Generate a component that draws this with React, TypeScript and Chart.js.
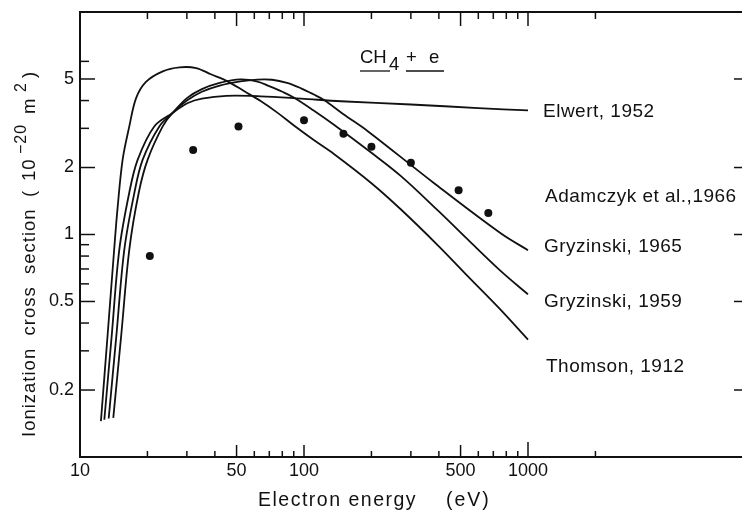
import React, { useEffect, useRef } from "react";
import { Chart, registerables } from "chart.js";

Chart.register(...registerables);

// ---- data (energy in eV, cross section in 1e-20 m^2) ----
const thomsonE = [12.4, 13.3, 14.2, 14.7, 15.5, 16.6, 17.8, 19.7, 23.4, 27.8, 33, 38.4, 45.6, 54.2, 64.3, 76.3, 90.5, 111, 136, 200, 271, 400, 538, 750, 1000];
const thomsonS = [0.145, 0.36, 0.85, 1.3, 2.17, 3.06, 4.1, 4.85, 5.41, 5.64, 5.6, 5.25, 4.88, 4.4, 3.97, 3.52, 3.08, 2.65, 2.3, 1.7, 1.295, 0.885, 0.65, 0.462, 0.337];

const elwertE = [12.84, 13.87, 14.98, 16.6, 18.1, 21.45, 25.9, 30.3, 35, 45, 64, 97, 146, 300, 600, 1000];
const elwertS = [0.147, 0.356, 0.856, 1.545, 2.17, 3.06, 3.52, 3.9, 4.08, 4.2, 4.18, 4.08, 3.97, 3.84, 3.7, 3.61];

const gryz59E = [13.43, 14.55, 15.77, 17.5, 19.05, 22.6, 25.9, 30, 35, 42, 52, 62, 70, 80, 90, 110, 137, 200, 271, 400, 538, 750, 1000];
const gryz59S = [0.149, 0.356, 0.856, 1.545, 2.17, 3.06, 3.52, 4.1, 4.5, 4.8, 4.98, 4.87, 4.64, 4.38, 4.13, 3.62, 3.1, 2.33, 1.83, 1.27, 0.95, 0.69, 0.538];

const gryz65E = [14.08, 15.29, 16.6, 18.3, 20.05, 23.4, 25.9, 30, 35, 42, 52, 62, 72, 84, 97, 110, 123, 150, 192, 381, 758, 1000];
const gryz65S = [0.15, 0.356, 0.856, 1.545, 2.17, 3.06, 3.52, 4.0, 4.38, 4.67, 4.88, 4.97, 4.96, 4.8, 4.54, 4.27, 4.02, 3.47, 2.92, 1.7, 1.01, 0.85];

const adamczykE = [20.5, 32, 51, 100, 150, 200, 300, 490, 665];
const adamczykS = [0.8, 2.4, 3.06, 3.26, 2.84, 2.48, 2.1, 1.58, 1.25];

const xLabelTicks = [10, 50, 100, 500, 1000];
const yLabelTicks = [0.2, 0.5, 1, 2, 5];
const xMajorTicks = [50, 100, 500, 1000];
const xMinorTicks = [20, 30, 40, 60, 70, 80, 90, 200, 300, 400, 600, 700, 800, 900, 2000];
const yMajorTicks = [0.2, 0.5, 1, 2, 5];
const yMinorTicks = [0.3, 0.4, 0.6, 0.7, 0.8, 0.9, 3, 4, 6];

const curveLabels = ["Elwert, 1952", "Adamczyk et al.,1966", "Gryzinski, 1965", "Gryzinski, 1959", "Thomson, 1912"];
const xTitle = ["Electron energy", "(eV)"];
const yTitle = ["Ionization  cross  section", "(", "10", "\u221220", "m", "2", ")"];

const FF = '"Liberation Sans", Arial, Helvetica, sans-serif';
const INK = "#111";

const pts = (E: number[], S: number[]) => E.map((e, i) => ({ x: e, y: S[i] }));

const decor = {
  id: "decor",
  afterDraw(chart: any) {
    const { ctx, chartArea: a, scales } = chart;
    const xs = scales.x;
    const ys = scales.y;
    ctx.save();
    ctx.strokeStyle = INK;
    ctx.fillStyle = INK;
    // frame
    ctx.lineWidth = 2;
    ctx.strokeRect(a.left, a.top, a.right - a.left, a.bottom - a.top);
    // ticks
    ctx.lineWidth = 1.5;
    const line = (x1: number, y1: number, x2: number, y2: number) => {
      ctx.beginPath();
      ctx.moveTo(x1, y1);
      ctx.lineTo(x2, y2);
      ctx.stroke();
    };
    xMinorTicks.forEach((v) => {
      const px = xs.getPixelForValue(v);
      line(px, a.bottom, px, a.bottom - 6);
      line(px, a.top, px, a.top + 7);
    });
    xMajorTicks.forEach((v) => {
      const px = xs.getPixelForValue(v);
      const len = v === 1000 ? 15 : 12;
      line(px, a.bottom, px, a.bottom - len);
      line(px, a.top, px, a.top + 14);
    });
    yMinorTicks.forEach((v) => {
      const py = ys.getPixelForValue(v);
      line(a.left, py, a.left + 9, py);
      line(a.right, py, a.right - 10, py);
    });
    yMajorTicks.forEach((v) => {
      const py = ys.getPixelForValue(v);
      line(a.left, py, a.left + 15, py);
      line(a.right, py, a.right - 18, py);
    });

    // curve labels
    ctx.textAlign = "left";
    ctx.textBaseline = "alphabetic";
    ctx.font = `19px ${FF}`;
    (ctx as any).letterSpacing = "0.5px";
    const labelPos = [
      [543, 116.5],
      [545, 201.5],
      [544, 251.5],
      [544, 307],
      [546, 371.5],
    ];
    curveLabels.forEach((t, i) => ctx.fillText(t, labelPos[i][0], labelPos[i][1]));

    // CH4 + e
    (ctx as any).letterSpacing = "0px";
    ctx.font = `18.5px ${FF}`;
    ctx.fillText("CH", 360, 62.7);
    ctx.fillText("4", 389, 69.5);
    ctx.fillText("+", 406, 62.7);
    ctx.fillText("e", 429, 62.7);
    ctx.lineWidth = 1.3;
    line(360, 71, 390, 71);
    line(406, 71, 444, 71);

    // x title
    ctx.font = `19.5px ${FF}`;
    (ctx as any).letterSpacing = "1.5px";
    ctx.fillText(xTitle[0], 258, 506);
    (ctx as any).letterSpacing = "2px";
    ctx.fillText(xTitle[1], 446, 506);

    // y title (rotated)
    ctx.save();
    ctx.translate(35, 437);
    ctx.rotate(-Math.PI / 2);
    (ctx as any).letterSpacing = "1px";
    ctx.font = `18.5px ${FF}`;
    ctx.fillText(yTitle[0], 0, 0);
    ctx.fillText(yTitle[1], 240, 0);
    ctx.fillText(yTitle[2], 256, 0);
    ctx.font = `16px ${FF}`;
    ctx.fillText(yTitle[3], 283, -9);
    ctx.font = `18.5px ${FF}`;
    ctx.fillText(yTitle[4], 323, 0);
    ctx.font = `16px ${FF}`;
    ctx.fillText(yTitle[5], 345, -9);
    ctx.font = `18.5px ${FF}`;
    ctx.fillText(yTitle[6], 359, 0);
    ctx.restore();

    ctx.restore();
  },
};

const lineDs = (E: number[], S: number[], label: string) => ({
  label,
  data: pts(E, S),
  borderColor: INK,
  borderWidth: 1.8,
  pointRadius: 0,
  fill: false,
  tension: 0.35,
});

export default function App() {
  const ref = useRef<HTMLCanvasElement | null>(null);
  useEffect(() => {
    if (!ref.current) return;
    const chart = new Chart(ref.current, {
      type: "line",
      data: {
        datasets: [
          lineDs(elwertE, elwertS, curveLabels[0]),
          lineDs(gryz65E, gryz65S, curveLabels[2]),
          lineDs(gryz59E, gryz59S, curveLabels[3]),
          lineDs(thomsonE, thomsonS, curveLabels[4]),
          {
            label: curveLabels[1],
            data: pts(adamczykE, adamczykS),
            showLine: false,
            pointRadius: 4,
            pointBackgroundColor: INK,
            pointBorderWidth: 0,
            borderColor: INK,
          } as any,
        ],
      },
      options: {
        animation: false,
        responsive: false,
        layout: { padding: { left: 0, right: 8, top: 12, bottom: 0 } },
        plugins: { legend: { display: false }, tooltip: { enabled: false } },
        scales: {
          x: {
            type: "logarithmic",
            min: 10,
            max: 10000,
            grid: { display: false, drawTicks: false },
            border: { display: false },
            afterBuildTicks: (s: any) => {
              s.ticks = xLabelTicks.map((v) => ({ value: v }));
            },
            afterFit: (s: any) => {
              s.height = 59;
              s.paddingLeft = 0;
              s.paddingRight = 0;
            },
            ticks: {
              callback: (v: any) => String(v),
              font: { family: FF, size: 18 },
              color: INK,
              padding: 3,
              maxRotation: 0,
              autoSkip: false,
            },
          },
          y: {
            type: "logarithmic",
            min: 0.1,
            max: 10,
            grid: { display: false, drawTicks: false },
            border: { display: false },
            afterBuildTicks: (s: any) => {
              s.ticks = yLabelTicks.map((v) => ({ value: v }));
            },
            afterFit: (s: any) => {
              s.width = 80;
              s.paddingTop = 0;
              s.paddingBottom = 0;
            },
            ticks: {
              callback: (v: any) => String(v),
              font: { family: FF, size: 18 },
              color: INK,
              padding: 6,
              autoSkip: false,
            },
          },
        },
      },
      plugins: [decor],
    });
    return () => chart.destroy();
  }, []);
  return (
    <div
      style={{
        position: "fixed",
        left: 0,
        top: 0,
        width: 742,
        height: 516,
        overflow: "hidden",
        background: "#fff",
      }}
    >
      <canvas ref={ref} width={760} height={516} style={{ display: "block" }} />
    </div>
  );
}
